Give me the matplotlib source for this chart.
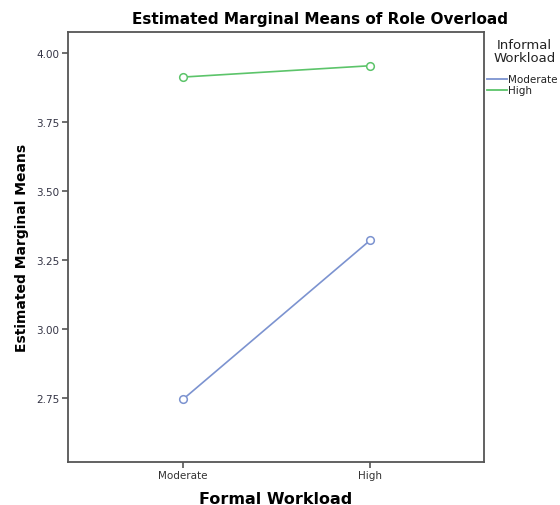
import matplotlib
matplotlib.use("Agg")
import matplotlib.pyplot as plt
from matplotlib.lines import Line2D

# ---- data ----
formal = ["Moderate", "High"]
informal = ["Moderate", "High"]
means_moderate = [2.745, 3.321]
means_high = [3.913, 3.954]
yticks = [2.75, 3.00, 3.25, 3.50, 3.75, 4.00]

BLUE = "#7c93d0"
GREEN = "#5cc46a"
FRAME = "#555555"

fig = plt.figure(figsize=(5.6, 5.06), dpi=100)
ax = fig.add_axes([0.1214, 0.0856, 0.743, 0.849])

x = list(range(len(formal)))
for vals, col in [(means_moderate, BLUE), (means_high, GREEN)]:
    ax.plot(x, vals, color=col, lw=1.2, marker="o", ms=5.5,
            mfc="white", mec=col, mew=1.1)

ax.set_xlim(-0.615, 1.61)
ax.set_ylim(2.519, 4.076)
ax.set_xticks(x)
ax.set_xticklabels(formal, fontsize=7.5, color="#333333")
ax.set_yticks(yticks)
ax.set_yticklabels([f"{v:.2f}" for v in yticks], fontsize=7.5, color="#333344")
ax.tick_params(direction="out", length=4, width=1.2, color=FRAME, pad=2)
for s in ax.spines.values():
    s.set_color(FRAME)
    s.set_linewidth(1.3)

ax.set_xlabel("Formal Workload", fontsize=11.5, fontweight="bold", labelpad=8)
ax.set_ylabel("Estimated Marginal Means", fontsize=10, fontweight="bold", labelpad=5)
fig.text(0.572, 0.962, "Estimated Marginal Means of Role Overload",
         fontsize=11, fontweight="bold", ha="center", va="center")

# legend drawn manually to sit in the right margin like SPSS does
fig.text(0.937, 0.898, "Informal\nWorkload", fontsize=9.5, ha="center",
         va="center", linespacing=1.0, color="#222222")
for i, (lab, col) in enumerate(zip(informal, [BLUE, GREEN])):
    yy = 0.842 - i * 0.022
    fig.add_artist(Line2D([0.869, 0.906], [yy, yy], color=col, lw=1.3,
                          transform=fig.transFigure))
    fig.text(0.908, yy, lab, fontsize=7.5, va="center", color="#222222")

fig.savefig("out.png", dpi=100)
